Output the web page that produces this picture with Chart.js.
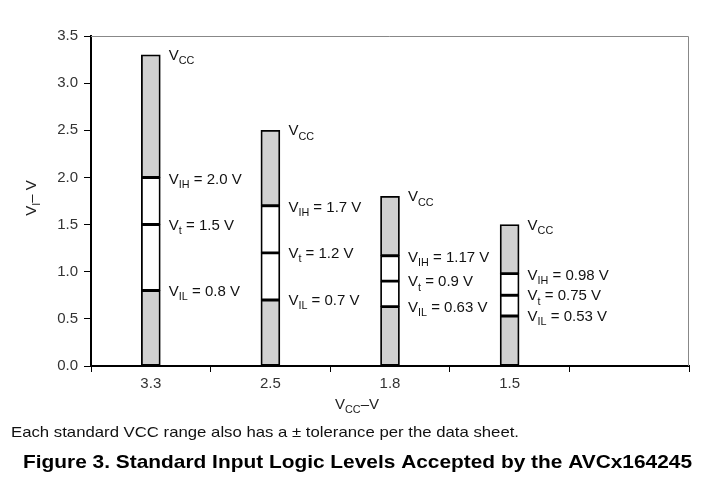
<!DOCTYPE html>
<html>
<head>
<meta charset="utf-8">
<script src="https://cdn.jsdelivr.net/npm/chart.js@4.4.1/dist/chart.umd.min.js"></script>
<style>
  html, body { margin: 0; padding: 0; background: #fff; }
  #wrap { position: relative; width: 726px; height: 488px; }
</style>
</head>
<body>
<div id="wrap"><canvas id="myChart" width="726" height="488"></canvas></div>
<script>
// categories on the x axis (last slot is empty in the original figure)
let categories = ["3.3", "2.5", "1.8", "1.5", ""];

// levels for each supply voltage
let vcc = [3.3, 2.5, 1.8, 1.5];
let vih = [2.0, 1.7, 1.17, 0.98];
let vt = [1.5, 1.2, 0.9, 0.75];
let vil = [0.8, 0.7, 0.63, 0.53];

// text shown next to each level
let vihText = ["2.0", "1.7", "1.17", "0.98"];
let vtText = ["1.5", "1.2", "0.9", "0.75"];
let vilText = ["0.8", "0.7", "0.63", "0.53"];

let yTicks = [0, 0.5, 1.0, 1.5, 2.0, 2.5, 3.0, 3.5];

const GRAY = "#d0d0d0";
const FONT = "'Liberation Sans', Arial, sans-serif";

function seg(lo, hi) {
  return lo.map((v, i) => [v, hi[i]]);
}
let zeros = vcc.map(() => 0);

function mkSet(label, data, color) {
  return {
    label: label,
    data: data,
    backgroundColor: color,
    borderColor: "#000",
    borderWidth: 1.8,
    borderSkipped: false,
    barThickness: 19,
    grouped: false
  };
}

// width of "V" + subscript + rest
function subWidth(ctx, main, sub, rest, size) {
  ctx.font = size + "px " + FONT;
  let w = ctx.measureText(main + (rest || "")).width;
  ctx.font = (size * 0.72) + "px " + FONT;
  return w + ctx.measureText(sub).width;
}

// draw "V" + subscript + rest
function drawSub(ctx, x, y, main, sub, rest, size) {
  size = size || 15;
  ctx.textBaseline = "middle";
  ctx.textAlign = "left";
  ctx.font = size + "px " + FONT;
  ctx.fillText(main, x, y);
  x += ctx.measureText(main).width;
  ctx.font = (size * 0.72) + "px " + FONT;
  ctx.fillText(sub, x, y + size * 0.36);
  x += ctx.measureText(sub).width;
  if (rest) {
    ctx.font = size + "px " + FONT;
    ctx.fillText(rest, x, y);
  }
}

// text stretched to a given width
function fitText(ctx, txt, x, y, width) {
  let w = ctx.measureText(txt).width;
  ctx.save();
  ctx.translate(x, y);
  ctx.scale(width / w, 1);
  ctx.textAlign = "left";
  ctx.fillText(txt, 0, 0);
  ctx.restore();
}

const labelPlugin = {
  id: "labelPlugin",
  beforeDraw(chart) {
    const c = chart.ctx;
    c.save();
    c.fillStyle = "#fff";
    c.fillRect(0, 0, chart.width, chart.height);
    c.restore();
  },
  afterDraw(chart) {
    const c = chart.ctx;
    const xs = chart.scales.x;
    const ys = chart.scales.y;
    const a = chart.chartArea;
    c.save();
    // top & right frame
    c.strokeStyle = "#888";
    c.lineWidth = 1;
    c.beginPath();
    c.moveTo(a.left, a.top + 0.5);
    c.lineTo(a.right - 0.5, a.top + 0.5);
    c.lineTo(a.right - 0.5, a.bottom);
    c.stroke();

    c.fillStyle = "#111";
    for (let i = 0; i < vcc.length; i++) {
      const lx = xs.getPixelForValue(i) + 18;
      drawSub(c, lx, ys.getPixelForValue(vcc[i]) + 1, "V", "CC", "");
      drawSub(c, lx, ys.getPixelForValue(vih[i]) + 2, "V", "IH", " = " + vihText[i] + " V");
      drawSub(c, lx, ys.getPixelForValue(vt[i]) + 1, "V", "t", " = " + vtText[i] + " V");
      drawSub(c, lx, ys.getPixelForValue(vil[i]) + 1, "V", "IL", " = " + vilText[i] + " V");
    }

    // axis titles
    c.fillStyle = "#222";
    let w = subWidth(c, "V", "CC", "\u2013V", 15);
    drawSub(c, 357 - w / 2, 405, "V", "CC", "\u2013V", 15);

    c.save();
    c.translate(32, 198);
    c.rotate(-Math.PI / 2);
    w = subWidth(c, "V", "I", "\u2013 V", 15);
    drawSub(c, -w / 2, 0, "V", "I", "\u2013 V", 15);
    c.restore();

    // footnote and caption
    c.fillStyle = "#111";
    c.textBaseline = "middle";
    c.font = "15px " + FONT;
    fitText(c, "Each standard VCC range also has a \u00b1 tolerance per the data sheet.", 11, 433, 508);
    c.font = "bold 19px " + FONT;
    c.fillStyle = "#000";
    fitText(c, "Figure 3. Standard Input Logic Levels Accepted by the AVCx164245", 23, 463, 669);
    c.restore();
  }
};

let ctx = document.getElementById("myChart").getContext("2d");

let myChart = new Chart(ctx, {
  type: "bar",
  data: {
    labels: categories,
    datasets: [
      mkSet("low", seg(zeros, vil), GRAY),
      mkSet("il-t", seg(vil, vt), "#fff"),
      mkSet("t-ih", seg(vt, vih), "#fff"),
      mkSet("high", seg(vih, vcc), GRAY)
    ]
  },
  options: {
    responsive: false,
    animation: false,
    layout: { padding: { left: 0, top: 36, right: 37, bottom: 0 } },
    plugins: {
      legend: { display: false },
      tooltip: { enabled: false }
    },
    scales: {
      x: {
        offset: true,
        grid: {
          offset: true,
          drawOnChartArea: false,
          tickLength: 6,
          tickColor: "#000",
          tickWidth: 1
        },
        border: { color: "#000", width: 2 },
        ticks: {
          color: "#333",
          font: { family: FONT, size: 15 },
          padding: 3
        },
        afterFit(scale) { scale.height = 122; }
      },
      y: {
        min: 0,
        max: 3.5,
        afterBuildTicks(scale) {
          scale.ticks = yTicks.map(v => ({ value: v }));
        },
        grid: {
          drawOnChartArea: false,
          tickLength: 7,
          tickColor: "#000",
          tickWidth: 1
        },
        border: { color: "#000", width: 2 },
        ticks: {
          color: "#333",
          font: { family: FONT, size: 15 },
          padding: 6,
          callback: v => v.toFixed(1)
        },
        afterFit(scale) { scale.width = 91; }
      }
    }
  },
  plugins: [labelPlugin]
});
</script>
</body>
</html>
